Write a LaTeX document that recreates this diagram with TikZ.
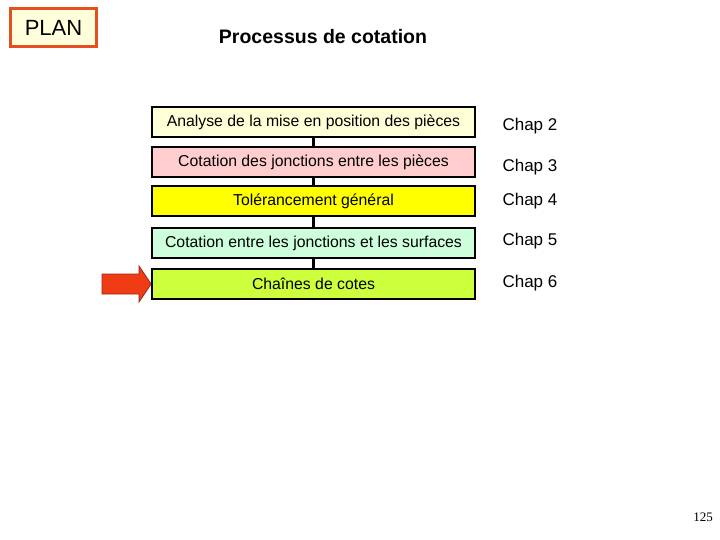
\documentclass[tikz,border=0pt]{standalone}
\usepackage{fontspec}
\setmainfont{Liberation Sans}
\newfontfamily\serif{Liberation Serif}
\definecolor{planb}{RGB}{230,80,30}
\definecolor{planf}{RGB}{255,255,220}
\definecolor{f1}{RGB}{255,255,215}
\definecolor{f2}{RGB}{255,205,205}
\definecolor{f3}{RGB}{255,255,0}
\definecolor{f4}{RGB}{205,255,220}
\definecolor{f5}{RGB}{205,255,60}
\definecolor{arrf}{RGB}{240,60,20}
\definecolor{arrd}{RGB}{150,40,20}
\begin{document}
\begin{tikzpicture}[x=1pt,y=-1pt,
 stepbox/.style={draw=black,line width=1.8pt,minimum width=323pt,minimum height=30pt,inner sep=0pt,font=\fontsize{15.8}{18}\selectfont},
 chap/.style={anchor=west,font=\fontsize{17}{19}\selectfont}]
\useasboundingbox (0,0) rectangle (720,540);
\node[draw=planb,line width=2.5pt,fill=planf,minimum width=86pt,minimum height=38pt,inner sep=0pt,font=\fontsize{22}{24}\selectfont] (plan) at (53.5,27.5) {PLAN};
\node[font=\bfseries\fontsize{19.5}{22}\selectfont] (title) at (323,37) {Processus de cotation};
\node[stepbox,fill=f1] (b1) at (313.5,122) {Analyse de la mise en position des pièces};
\node[stepbox,fill=f2] (b2) at (313.5,162) {Cotation des jonctions entre les pièces};
\node[stepbox,fill=f3] (b3) at (313.5,201) {Tolérancement général};
\node[stepbox,fill=f4] (b4) at (313.5,243) {Cotation entre les jonctions et les surfaces};
\node[stepbox,fill=f5] (b5) at (313.5,284) {Chaînes de cotes};
\foreach \a/\b in {b1/b2,b2/b3,b3/b4,b4/b5} \draw[line width=2.5pt] (\a.south) -- (\b.north);
\node[chap] (c2) at (499,126) {Chap 2};
\node[chap] (c3) at (499,167) {Chap 3};
\node[chap] (c4) at (499,201) {Chap 4};
\node[chap] (c5) at (499,241) {Chap 5};
\node[chap] (c6) at (499,283) {Chap 6};
\draw[fill=arrf,draw=arrd,line width=0.8pt] (102,274) -- (139,274) -- (139,266) -- (b5.west) -- (139,302) -- (139,294) -- (102,294) -- cycle;
\node[font=\serif\fontsize{13}{15}\selectfont] (pg) at (703,517) {125};
\end{tikzpicture}
\end{document}
